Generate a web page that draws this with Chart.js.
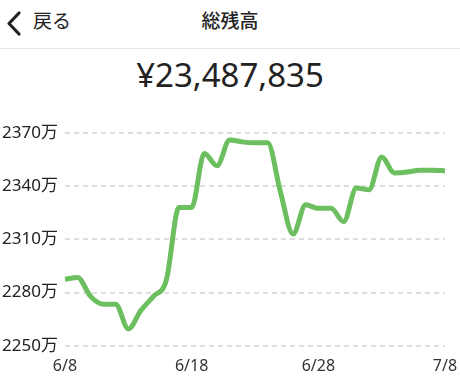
<!DOCTYPE html>
<html>
<head>
<meta charset="utf-8">
<script src="https://cdn.jsdelivr.net/npm/chart.js@4"></script>
<style>
  html, body { margin: 0; padding: 0; background: #fff; }
  body { width: 460px; height: 380px; position: relative; overflow: hidden;
         font-family: "Noto Sans", "Noto Sans CJK JP", sans-serif; color: #222; }
  #back { position: absolute; left: 5px; top: 10px; }
  #backText { position: absolute; left: 33px; top: 8px; font-size: 19px; line-height: 26px; }
  #title { position: absolute; left: 0; width: 460px; top: 8px; text-align: center;
           font-size: 19px; line-height: 26px; font-weight: 500; }
  #sep { position: absolute; left: 0; top: 48px; width: 460px; height: 1px; background: #e3e3e3; }
  #total { position: absolute; left: 0; width: 460px; top: 53px; text-align: center;
           font-size: 33px; line-height: 44px; }
  #wrap { position: absolute; left: 0; top: 0; width: 460px; height: 387px; }
</style>
</head>
<body>
<svg id="back" width="20" height="28" viewBox="0 0 20 28">
  <polyline points="14,3 4,13.5 14,24" fill="none" stroke="#222" stroke-width="3.2" stroke-linecap="round" stroke-linejoin="round"/>
</svg>
<div id="backText">戻る</div>
<div id="title">総残高</div>
<div id="sep"></div>
<div id="total">¥23,487,835</div>
<div id="wrap"><canvas id="balanceChart"></canvas></div>
<script>
// daily dates 6/8 .. 7/8
const days = ['6/8', '6/9', '6/10', '6/11', '6/12', '6/13', '6/14', '6/15', '6/16', '6/17',
    '6/18', '6/19', '6/20', '6/21', '6/22', '6/23', '6/24', '6/25', '6/26', '6/27',
    '6/28', '6/29', '6/30', '7/1', '7/2', '7/3', '7/4', '7/5', '7/6', '7/7', '7/8'];
const shownLabels = ['6/8', '6/18', '6/28', '7/8']; // x-axis labels that are drawn

// total balance, in 万円
const balance = [2287.5, 2288.5, 2278, 2273.5, 2273.5, 2259.5, 2270, 2278, 2287, 2328,
    2328, 2358.5, 2351.5, 2366, 2365, 2364.5, 2364.5, 2337, 2313, 2329.5,
    2327.5, 2327.5, 2320, 2339, 2338, 2356.5, 2347.5, 2348, 2349, 2349, 2348.7];

const yMin = 2250;
const yMax = 2370;
const yStep = 30;

const canvas = document.getElementById('balanceChart');
const ctx = canvas.getContext('2d');

const balanceChart = new Chart(ctx, {
    type: 'line',
    data: {
        labels: days,
        datasets: [{
            data: balance,
            borderColor: '#6cbf5e',
            borderWidth: 5,
            pointRadius: 0,
            fill: false,
            cubicInterpolationMode: 'monotone'
        }]
    },
    options: {
        responsive: true,
        maintainAspectRatio: false,
        animation: false,
        layout: {
            padding: { top: 133, left: 2, right: 0, bottom: 0 }
        },
        plugins: {
            legend: { display: false },
            tooltip: { enabled: false }
        },
        scales: {
            x: {
                afterFit: function (scale) {
                    // keep the last date label from shrinking the plot
                    scale.paddingLeft = 0;
                    scale.paddingRight = 15;
                },
                grid: { display: false, drawTicks: false },
                border: { display: false },
                ticks: {
                    autoSkip: false,
                    maxRotation: 0,
                    padding: 11,
                    color: '#333',
                    font: { size: 16, family: '"Noto Sans", sans-serif' },
                    callback: function (value) {
                        const lbl = this.getLabelForValue(value);
                        return shownLabels.includes(lbl) ? lbl : '';
                    }
                }
            },
            y: {
                min: yMin,
                max: yMax,
                afterFit: function (scale) { scale.width = 63; },
                grid: { color: '#dedede', lineWidth: 2, drawTicks: false },
                border: { display: false, dash: [5, 4] },
                ticks: {
                    stepSize: yStep,
                    crossAlign: 'far',
                    color: '#222',
                    font: { size: 17, family: '"Noto Sans", "Noto Sans CJK JP", sans-serif' },
                    callback: value => value + '万'
                }
            }
        }
    }
});
</script>
</body>
</html>
